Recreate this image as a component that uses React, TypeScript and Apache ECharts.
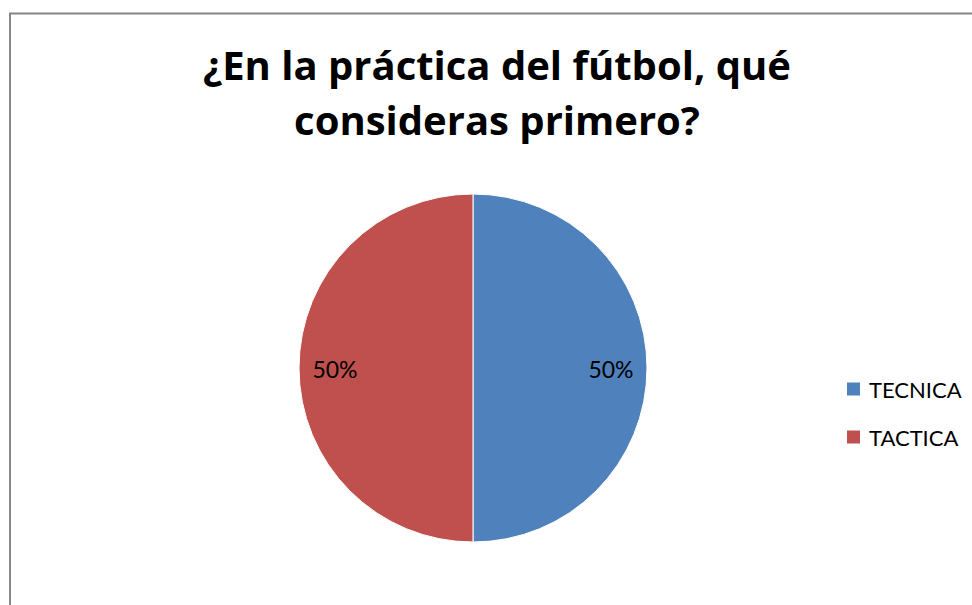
import React, { useEffect, useRef } from "react";
import * as echarts from "echarts";

const titleText = "¿En la práctica del fútbol, qué\nconsideras primero?";
const categories = ["TECNICA", "TACTICA"];
const values = [50, 50];
const colors = ["#4F81BD", "#C0504D"];

export default function App() {
  const ref = useRef<HTMLDivElement>(null);
  useEffect(() => {
    document.body.style.margin = "0";
    const chart = echarts.init(ref.current!, null, { renderer: "svg" });
    const data = categories.map((name, i) => ({
      name,
      value: values[i],
      itemStyle: { color: colors[i] },
      label: { offset: [i === 0 ? 48 : -48, 1] },
    }));
    chart.setOption({
      animation: false,
      backgroundColor: "#ffffff",
      title: {
        text: titleText,
        left: 497,
        top: 37,
        textAlign: "center",
        padding: 0,
        textStyle: {
          fontFamily: "Open Sans",
          fontWeight: "bold",
          fontSize: 40,
          lineHeight: 55,
          color: "#000000",
        },
      },
      graphic: [
        {
          type: "rect",
          shape: { x: 10, y: 13.5, width: 1000, height: 700 },
          style: { fill: "none", stroke: "#868686", lineWidth: 2 },
          silent: true,
          z: -1,
        },
      ],
      legend: {
        orient: "vertical",
        left: 845,
        top: 378,
        padding: 0,
        itemWidth: 15,
        itemHeight: 15,
        itemGap: 26,
        icon: "rect",
        data: categories,
        textStyle: {
          fontFamily: "Lato",
          fontSize: 22,
          color: "#000000",
          padding: [0, 0, 0, 3],
        },
      },
      series: [
        {
          type: "pie",
          center: [473, 368],
          radius: 174,
          startAngle: 90,
          clockwise: true,
          data,
          itemStyle: { borderColor: "#ffffff", borderWidth: 1 },
          label: {
            show: true,
            position: "inside",
            formatter: "{d}%",
            fontFamily: "Lato",
            fontSize: 23,
            color: "#000000",
          },
          labelLine: { show: false },
          emphasis: { disabled: true },
        },
      ],
    });
    return () => chart.dispose();
  }, []);
  return <div ref={ref} style={{ width: 972, height: 605 }} />;
}
